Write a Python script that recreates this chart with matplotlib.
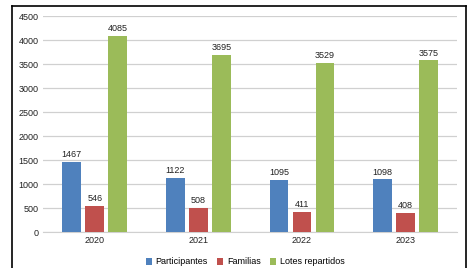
import numpy as np
import matplotlib.pyplot as plt
from matplotlib.lines import Line2D

years = ["2020", "2021", "2022", "2023"]
participantes = [1467, 1122, 1095, 1098]
familias = [546, 508, 411, 408]
lotes = [4085, 3695, 3529, 3575]

series = [("Participantes", participantes, "#4F81BD"),
          ("Familias", familias, "#C0504D"),
          ("Lotes repartidos", lotes, "#9BBB59")]

plt.rcParams['font.family'] = ['Liberation Sans', 'DejaVu Sans']

fig = plt.figure(figsize=(4.67, 2.68), dpi=100)
ax = fig.add_axes([0.092, 0.134, 0.887, 0.806])

x = np.arange(len(years))
offsets = [-0.222, 0, 0.222]
for (name, vals, col), off in zip(series, offsets):
    bars = ax.bar(x + off, vals, width=0.18, color=col, label=name, zorder=3)
    for b, v in zip(bars, vals):
        ax.text(b.get_x() + b.get_width() / 2, v + 60, str(v), ha="center", va="bottom",
                fontsize=6.5, color="#222222")

ax.set_xlim(-0.5, 3.5)
ax.set_ylim(0, 4500)
ax.set_yticks(range(0, 4501, 500))
ax.set_xticks(x)
ax.set_xticklabels(years)
ax.grid(axis="y", color="#d0d0d0", linewidth=0.9, zorder=0)
for s in ax.spines.values():
    s.set_visible(False)
ax.spines["bottom"].set_visible(True)
ax.spines["bottom"].set_color("#d0d0d0")
ax.tick_params(axis="both", length=0, labelsize=6.5, colors="#222222", pad=3)

fig.legend(loc="center", bbox_to_anchor=(245 / 467, 1 - 262 / 268), ncol=3, frameon=False,
           fontsize=6.5, handlelength=0.7, handleheight=0.7, handletextpad=0.4,
           columnspacing=1.0, borderaxespad=0, borderpad=0)

# frame around the chart (left, top, right only)
x0, x1 = 11.5 / 467, 465.5 / 467
ytop = 1 - 6 / 268
fig.add_artist(Line2D([x0, x0], [0, ytop], transform=fig.transFigure, color="black", lw=1.2))
fig.add_artist(Line2D([x0, x1], [ytop, ytop], transform=fig.transFigure, color="black", lw=1.2))
fig.add_artist(Line2D([x1, x1], [0, ytop], transform=fig.transFigure, color="black", lw=1.2))

fig.savefig("out.png", dpi=100)
